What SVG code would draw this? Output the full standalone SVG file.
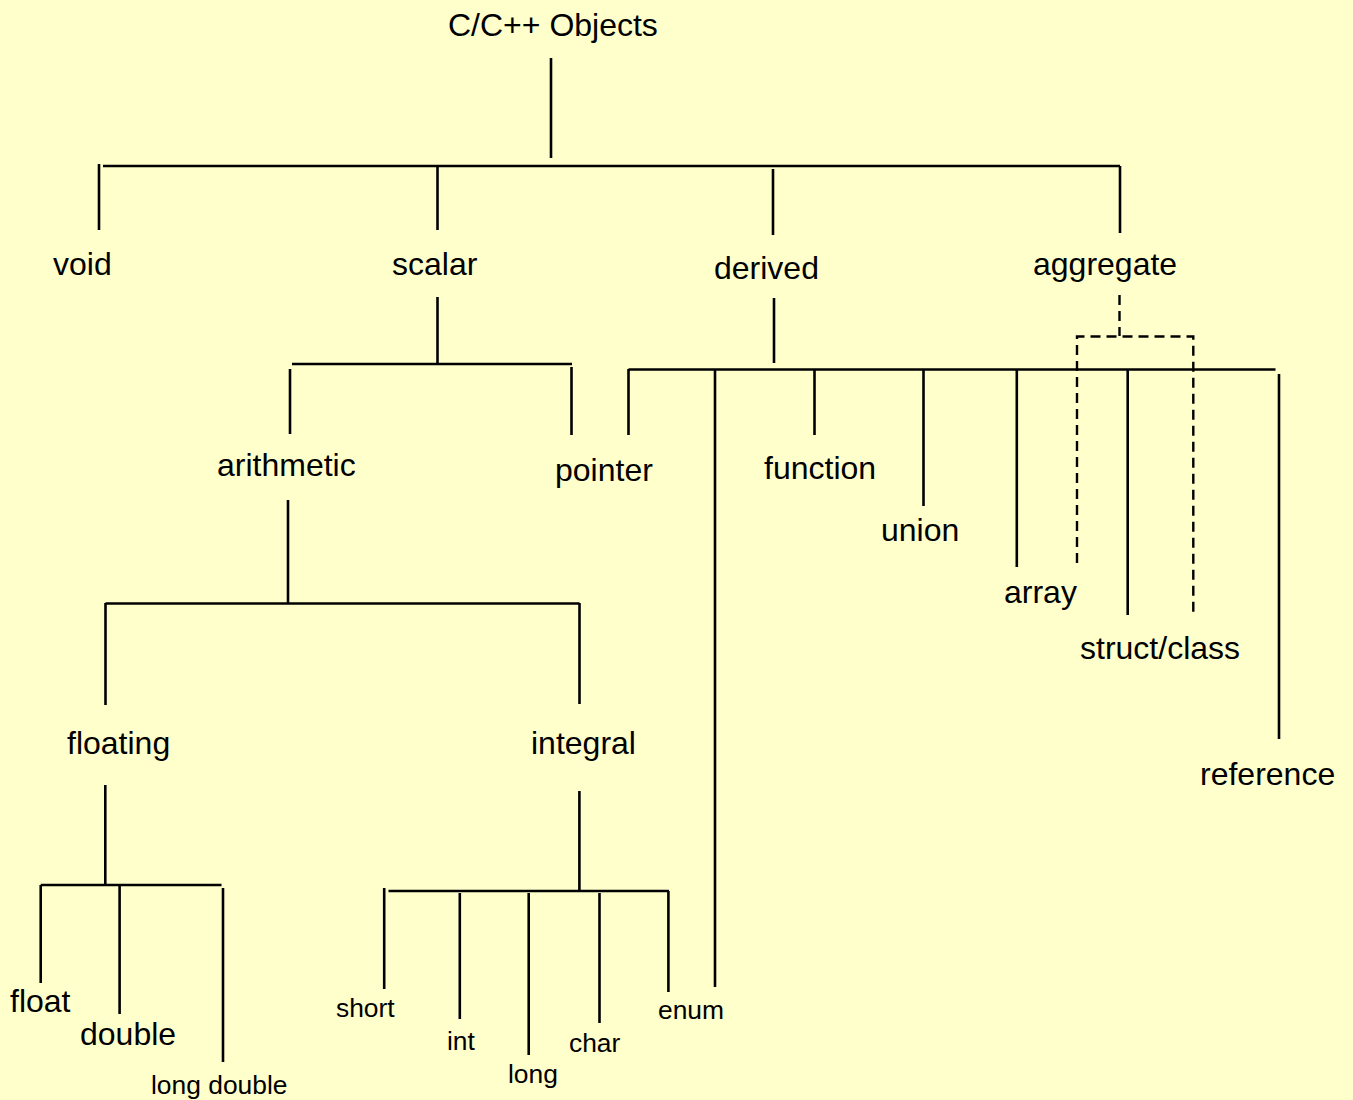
<svg xmlns="http://www.w3.org/2000/svg" width="1353" height="1100" viewBox="0 0 1353 1100">
  <style>
    .lbl { font-family: "Liberation Sans", Arial, sans-serif; font-size: 32px; fill: #000; }
    .sm { font-size: 26.4px; }
    .ln { stroke: #000; stroke-width: 2.6; fill: none; stroke-linecap: butt; }
    .dash { stroke: #000; stroke-width: 2.4; fill: none; stroke-dasharray: 10 6; }
  </style>
  <rect x="0" y="0" width="1353" height="1100" fill="#FFFFCC"/>

  <g id="connectors">
    <!-- root fan-out -->
    <line class="ln" x1="551" y1="58" x2="551" y2="158"/>
    <line class="ln" x1="103" y1="166" x2="1120" y2="166"/>
    <line class="ln" x1="99" y1="164" x2="99" y2="230"/>
    <line class="ln" x1="437.5" y1="166" x2="437.5" y2="230"/>
    <line class="ln" x1="773" y1="169" x2="773" y2="235"/>
    <line class="ln" x1="1120" y1="166" x2="1120" y2="233"/>

    <!-- scalar branch -->
    <line class="ln" x1="437.5" y1="297" x2="437.5" y2="363"/>
    <line class="ln" x1="292" y1="364" x2="572" y2="364"/>
    <line class="ln" x1="290" y1="369" x2="290" y2="434"/>
    <line class="ln" x1="571.5" y1="367" x2="571.5" y2="435"/>

    <!-- derived branch -->
    <line class="ln" x1="774" y1="298" x2="774" y2="363"/>
    <line class="ln" x1="628.5" y1="369.5" x2="1275.5" y2="369.5"/>
    <line class="ln" x1="628.5" y1="369" x2="628.5" y2="435"/>
    <line class="ln" x1="715" y1="369" x2="715" y2="987"/>
    <line class="ln" x1="814.5" y1="369" x2="814.5" y2="435"/>
    <line class="ln" x1="923.5" y1="369" x2="923.5" y2="506"/>
    <line class="ln" x1="1016.8" y1="369" x2="1016.8" y2="567"/>
    <line class="ln" x1="1127.7" y1="369" x2="1127.7" y2="615"/>
    <line class="ln" x1="1279" y1="374" x2="1279" y2="739"/>

    <!-- aggregate grouping (dashed) -->
    <line class="dash" x1="1119.5" y1="295" x2="1119.5" y2="336"/>
    <polyline class="dash" points="1077,563 1077,336.5 1193.3,336.5 1193.3,612"/>

    <!-- arithmetic branch -->
    <line class="ln" x1="288" y1="500" x2="288" y2="603"/>
    <line class="ln" x1="105.5" y1="603.5" x2="579.5" y2="603.5"/>
    <line class="ln" x1="105.5" y1="603" x2="105.5" y2="705"/>
    <line class="ln" x1="579.5" y1="603" x2="579.5" y2="704"/>

    <!-- floating branch -->
    <line class="ln" x1="105.3" y1="785" x2="105.3" y2="885"/>
    <line class="ln" x1="40.7" y1="885" x2="221.5" y2="885"/>
    <line class="ln" x1="40.7" y1="885" x2="40.7" y2="983"/>
    <line class="ln" x1="119.6" y1="885" x2="119.6" y2="1014"/>
    <line class="ln" x1="223" y1="888" x2="223" y2="1062"/>

    <!-- integral branch -->
    <line class="ln" x1="579.4" y1="791" x2="579.4" y2="891"/>
    <line class="ln" x1="388.5" y1="891" x2="669" y2="891"/>
    <line class="ln" x1="384.2" y1="888" x2="384.2" y2="989"/>
    <line class="ln" x1="459.8" y1="893" x2="459.8" y2="1019"/>
    <line class="ln" x1="528.7" y1="893" x2="528.7" y2="1055"/>
    <line class="ln" x1="599.5" y1="893" x2="599.5" y2="1023"/>
    <line class="ln" x1="668.4" y1="891" x2="668.4" y2="992"/>
  </g>

  <g id="node-root"><text class="lbl" x="448" y="36">C/C++ Objects</text></g>
  <g id="node-void"><text class="lbl" x="53" y="275">void</text></g>
  <g id="node-scalar"><text class="lbl" x="392" y="275">scalar</text></g>
  <g id="node-derived"><text class="lbl" x="714" y="279">derived</text></g>
  <g id="node-aggregate"><text class="lbl" x="1033" y="275">aggregate</text></g>
  <g id="node-arithmetic"><text class="lbl" x="217" y="476">arithmetic</text></g>
  <g id="node-pointer"><text class="lbl" x="555" y="481">pointer</text></g>
  <g id="node-function"><text class="lbl" x="764" y="479">function</text></g>
  <g id="node-union"><text class="lbl" x="881" y="541">union</text></g>
  <g id="node-array"><text class="lbl" x="1004" y="603">array</text></g>
  <g id="node-struct-class"><text class="lbl" x="1080" y="659">struct/class</text></g>
  <g id="node-reference"><text class="lbl" x="1200" y="785">reference</text></g>
  <g id="node-floating"><text class="lbl" x="67" y="754">floating</text></g>
  <g id="node-integral"><text class="lbl" x="531" y="754">integral</text></g>
  <g id="node-float"><text class="lbl" x="10" y="1012">float</text></g>
  <g id="node-double"><text class="lbl" x="80" y="1045">double</text></g>
  <g id="node-long-double"><text class="lbl sm" x="151" y="1094">long double</text></g>
  <g id="node-short"><text class="lbl sm" x="336" y="1017">short</text></g>
  <g id="node-int"><text class="lbl sm" x="447" y="1050">int</text></g>
  <g id="node-long"><text class="lbl sm" x="508" y="1083">long</text></g>
  <g id="node-char"><text class="lbl sm" x="569" y="1052">char</text></g>
  <g id="node-enum"><text class="lbl sm" x="658" y="1019">enum</text></g>
</svg>
